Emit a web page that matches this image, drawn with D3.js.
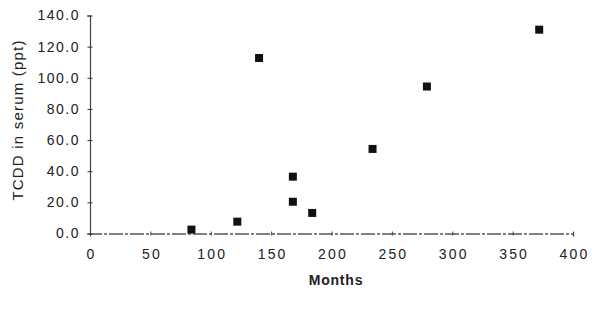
<!DOCTYPE html>
<html>
<head>
<meta charset="utf-8">
<script src="https://cdn.jsdelivr.net/npm/d3@7"></script>
<style>
  body { margin: 0; background: #fff; }
  text { font-family: "Liberation Sans", Arial, sans-serif; fill: #222; }
</style>
</head>
<body>
<svg width="600" height="321"></svg>
<script>
// months since exposure vs TCDD in serum (ppt)
var months = [84, 122, 140, 168, 168, 184, 234, 279, 372];
var tcdd = [2.5, 7.6, 112.7, 36.5, 20.4, 13.2, 54.3, 94.4, 130.9];
var xTicks = [0, 50, 100, 150, 200, 250, 300, 350, 400];
var yTicks = [0, 20, 40, 60, 80, 100, 120, 140];

var svg = d3.select('svg');
var margin = { top: 15.5, right: 27, bottom: 87.5, left: 90 };
var width = +svg.attr('width') - margin.left - margin.right;
var height = +svg.attr('height') - margin.top - margin.bottom;
var g = svg.append('g').attr('transform', `translate(${margin.left}, ${margin.top})`);

var formatY = d3.format('.1f');

var x = d3.scaleLinear().domain([0, 400]).range([0, width]);
var y = d3.scaleLinear().domain([0, 140]).range([height, 0]);

var xAxis = d3.axisBottom(x).tickValues(xTicks).tickSize(3).tickPadding(13);
var yAxis = d3.axisLeft(y).tickValues(yTicks).tickSize(3).tickFormat(formatY).tickPadding(7);

g.append('g')
	.attr('transform', `translate(0,${height})`)
	.call(customXAxis);

g.append('g')
	.call(customYAxis);

function customXAxis(g) {
	g.call(xAxis);
	g.select('.domain').attr('stroke', '#555').attr('stroke-width', 1.3).attr('stroke-dasharray', '14,2,3,2');
	g.selectAll('.tick line').attr('y1', -2).attr('y2', 2).attr('stroke', '#444');
	g.selectAll('.tick text')
		.attr('font-size', 14)
		.attr('letter-spacing', 2.2)
		.attr('dx', 1)
		.attr('fill', '#222');
}

function customYAxis(g) {
	g.call(yAxis);
	g.select('.domain').attr('stroke', '#444').attr('stroke-width', 1.2);
	g.selectAll('.tick line').attr('x1', -2.5).attr('x2', 2.5).attr('stroke', '#333');
	g.selectAll('.tick text')
		.attr('font-size', 14)
		.attr('letter-spacing', 1.5)
		.attr('fill', '#222');
}

g.selectAll('.pt')
	.data(months)
	.enter().append('rect')
	.attr('class', 'pt')
	.attr('x', function (d) { return x(d) - 4; })
	.attr('y', function (d, i) { return y(tcdd[i]) - 4; })
	.attr('width', 8)
	.attr('height', 8)
	.attr('fill', '#111');

svg.append('text')
	.attr('x', 336)
	.attr('y', 285)
	.attr('text-anchor', 'middle')
	.attr('font-size', 14)
	.attr('font-weight', 'bold')
	.attr('letter-spacing', 0.8)
	.text('Months');

svg.append('text')
	.attr('transform', 'translate(23,120) rotate(-90)')
	.attr('text-anchor', 'middle')
	.attr('font-size', 15)
	.attr('letter-spacing', 1.2)
	.text('TCDD in serum (ppt)');
</script>
</body>
</html>
